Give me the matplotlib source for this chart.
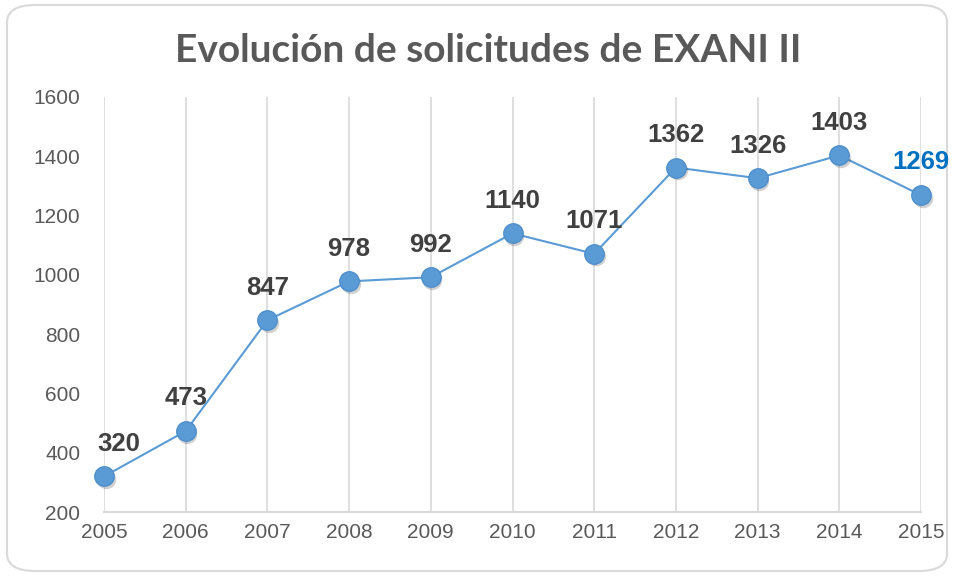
import matplotlib
matplotlib.use("Agg")
import matplotlib.pyplot as plt
from matplotlib.patches import FancyBboxPatch
from matplotlib.transforms import offset_copy

years = [2005, 2006, 2007, 2008, 2009, 2010, 2011, 2012, 2013, 2014, 2015]
solicitudes = [320, 473, 847, 978, 992, 1140, 1071, 1362, 1326, 1403, 1269]
y_ticks = [200, 400, 600, 800, 1000, 1200, 1400, 1600]
title = "Evolución de solicitudes de EXANI II"

W, H = 954, 576
fig = plt.figure(figsize=(W / 100, H / 100), dpi=100)
fig.patch.set_facecolor("white")

# rounded outer border
border = FancyBboxPatch((7 / W, 5 / H), (W - 14) / W, (H - 10) / H,
                        boxstyle="round,pad=0,rounding_size=0.03",
                        transform=fig.transFigure, facecolor="none",
                        edgecolor="#D9D9D9", linewidth=1.5, zorder=-1)
fig.patches.append(border)

ax = fig.add_axes([104 / W, (H - 512) / H, (921 - 104) / W, (512 - 97) / H])
ax.set_facecolor("none")

line_color = "#5B9BD5"
ax.plot(years, solicitudes, color=line_color, linewidth=1.5, zorder=3,
        solid_capstyle="round", clip_on=False)
shadow_tr = offset_copy(ax.transData, fig=fig, x=1.2, y=-1.8, units="points")
ax.plot(years, solicitudes, linestyle="none", marker="o", markersize=14,
        markerfacecolor="#000000", markeredgecolor="none", alpha=0.18,
        transform=shadow_tr, zorder=3.5, clip_on=False)
ax.plot(years, solicitudes, linestyle="none", marker="o", markersize=14,
        markerfacecolor=line_color, markeredgecolor="#4F8FCC",
        markeredgewidth=1.0, zorder=4, clip_on=False)

ax.set_xlim(2005, 2015)
ax.set_ylim(200, 1600)
ax.set_xticks(years)
ax.set_xticklabels([str(y) for y in years])
ax.set_yticks(y_ticks)

ax.grid(axis="x", color="#D9D9D9", linewidth=1.2, zorder=1)
ax.grid(axis="y", visible=False)
for s in ["top", "right", "left"]:
    ax.spines[s].set_visible(False)
ax.spines["bottom"].set_color("#D9D9D9")
ax.spines["bottom"].set_linewidth(1.5)
ax.tick_params(length=0, labelsize=15, labelcolor="#595959")
ax.tick_params(axis="x", pad=8)
ax.tick_params(axis="y", pad=17)
for lbl in ax.get_xticklabels() + ax.get_yticklabels():
    lbl.set_fontfamily("Liberation Sans")

for i, (x, v) in enumerate(zip(years, solicitudes)):
    dx = 0
    color = "#404040"
    if i == 0:
        dx = 11
    if i == len(years) - 1:
        color = "#0070C0"
    ax.annotate(str(v), (x, v), xytext=(dx, 23.5), textcoords="offset points",
                ha="center", va="center", fontsize=18.5, fontweight="bold",
                color=color, family="Liberation Sans", zorder=5,
                annotation_clip=False)

fig.text(488 / W, 1 - 50 / H, title, ha="center", va="center",
         fontsize=28, fontweight="bold", color="#595959", family="Lato")

fig.savefig("out.png", dpi=100)
